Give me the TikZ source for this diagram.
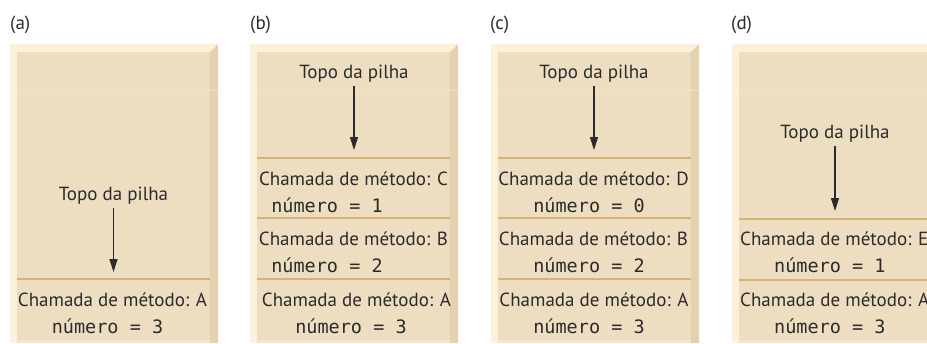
\documentclass[tikz,border=0pt]{standalone}
\usepackage{fontspec}
\setmainfont{PT Sans}
\newfontfamily\monof{DejaVu Sans Mono}
\usetikzlibrary{arrows.meta}
\definecolor{fillc}{HTML}{EDDEC1}
\definecolor{bevlight}{HTML}{FEF0DB}
\definecolor{bevdark}{HTML}{E3D2AE}
\definecolor{divc}{HTML}{D4B374}
\definecolor{botc}{HTML}{F3E6CC}
\definecolor{faintc}{HTML}{F0E3CA}
\definecolor{txt}{HTML}{2B2B2B}
\tikzset{
  lbl/.style={font=\fontsize{19}{22}\selectfont, text=txt, inner sep=0pt, anchor=base},
  lblw/.style={lbl, anchor=base west},
  mono/.style={font=\monof\fontsize{18.5}{22}\selectfont, text=txt, inner sep=0pt, anchor=base},
  monow/.style={mono, anchor=base west},
  arr/.style={draw=txt, line width=1.2pt, shorten <=4pt, -{Triangle[length=13pt,width=8pt]}},
  divider/.style={draw=divc, line width=1.6pt},
  faint/.style={draw=faintc, line width=0.7pt},
}
\newcommand\drawpanel[1]{%
  \begin{scope}[xshift=#1pt]
    \fill[bevlight] (0,44) rectangle (208,343);
    \fill[bevdark] (200,52) -- (208,44) -- (208,343) -- (200,343) -- cycle;
    \fill[botc] (7,340) rectangle (200,343);
    \fill[fillc] (7,52) rectangle (200,340);
    \draw[faint] (7,90) -- (208,90);
  \end{scope}}
\newcommand\divline[2]{\draw[divider] (#1+7,#2) -- (#1+200,#2);}
\begin{document}
\begin{tikzpicture}[x=1pt,y=-1pt]
  \useasboundingbox (0,0) rectangle (927,343);
  \clip (0,0) rectangle (927,343);
  % panels
  \drawpanel{10}
  \drawpanel{250}
  \drawpanel{491}
  \drawpanel{732}
  % panel labels
  \node[lblw] (la) at (10,29) {(a)};
  \node[lblw] (lb) at (250,29) {(b)};
  \node[lblw] (lc) at (490,29) {(c)};
  \node[lblw] (ld) at (731,29) {(d)};
  % ---------- (a)
  \divline{10}{279}
  \node[lbl] (ta) at (113.5,200) {Topo da pilha};
  \coordinate (tae) at (113.5,272);
  \draw[arr] (ta.south) -- (ta.south |- tae);
  \node[lbl] (a1) at (112.5,306) {Chamada de método: A};
  \node[mono] (a1n) at (107.5,333) {número = 3};
  % ---------- (b)
  \divline{250}{158}
  \divline{250}{218}
  \divline{250}{279}
  \node[lbl] (tb) at (354,78) {Topo da pilha};
  \coordinate (tbe) at (354,150);
  \draw[arr] (tb.south) -- (tb.south |- tbe);
  \node[lbl] (b3) at (353.5,185) {Chamada de método: C};
  \node[mono] (b3n) at (327,212) {número = 1};
  \node[lbl] (b2) at (353.5,245) {Chamada de método: B};
  \node[mono] (b2n) at (327,272) {número = 2};
  \node[lbl] (b1) at (356.5,306) {Chamada de método: A};
  \node[mono] (b1n) at (351,333) {número = 3};
  % ---------- (c)
  \divline{491}{158}
  \divline{491}{218}
  \divline{491}{279}
  \node[lbl] (tc) at (594,78) {Topo da pilha};
  \coordinate (tce) at (594,150);
  \draw[arr] (tc.south) -- (tc.south |- tce);
  \node[lbl] (c3) at (593.5,185) {Chamada de método: D};
  \node[mono] (c3n) at (589,212) {número = 0};
  \node[lbl] (c2) at (593.5,245) {Chamada de método: B};
  \node[mono] (c2n) at (589,272) {número = 2};
  \node[lbl] (c1) at (594,306) {Chamada de método: A};
  \node[mono] (c1n) at (589,333) {número = 3};
  % ---------- (d)
  \divline{732}{219}
  \divline{732}{280}
  \node[lbl] (td) at (835,138) {Topo da pilha};
  \coordinate (tde) at (835,211);
  \draw[arr] (td.south) -- (td.south |- tde);
  \node[lblw] (d2) at (740,245) {Chamada de método: E};
  \node[monow] (d2n) at (774,272) {número = 1};
  \node[lblw] (d1) at (740,306) {Chamada de método: A};
  \node[monow] (d1n) at (774,333) {número = 3};
\end{tikzpicture}
\end{document}
